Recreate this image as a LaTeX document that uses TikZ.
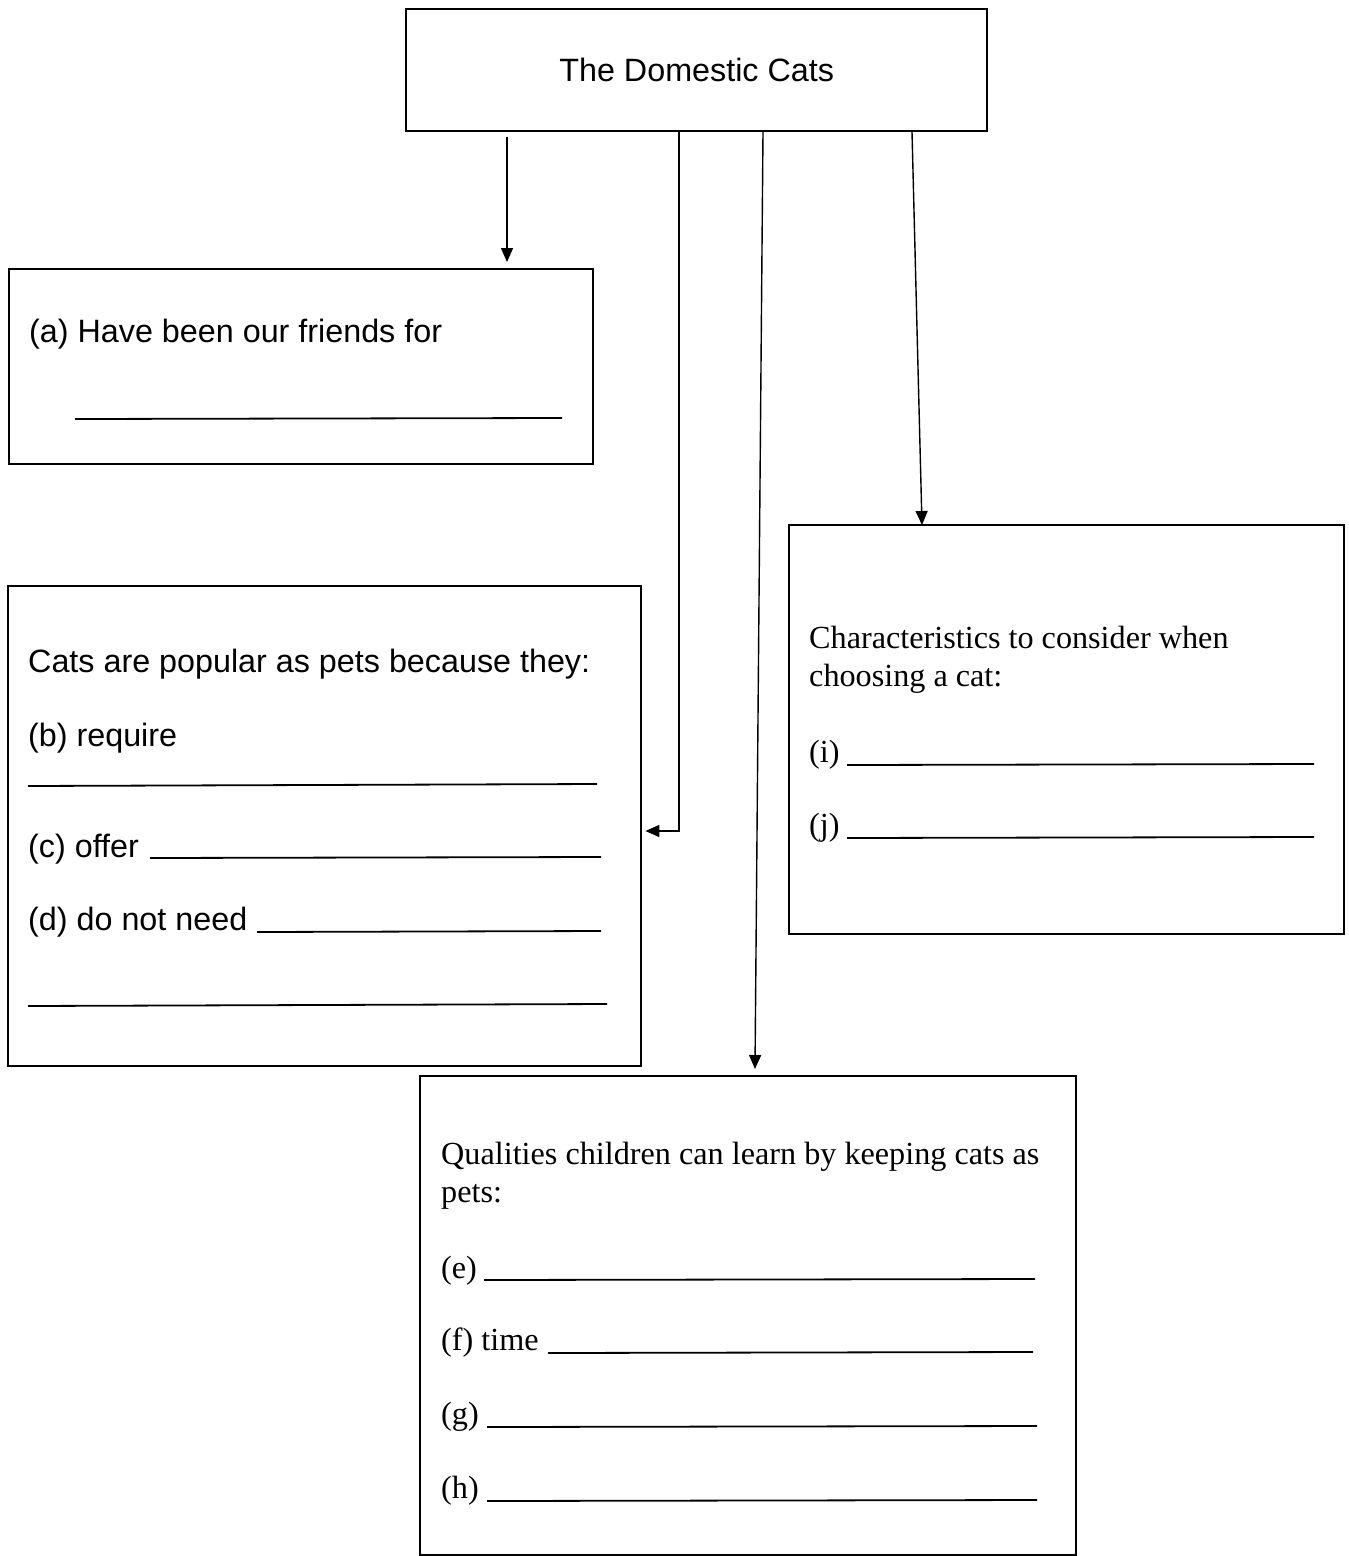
\documentclass[tikz,border=0pt]{standalone}
\usepackage{fontspec}
\newfontfamily\sansf{Liberation Sans}
\newfontfamily\seriff{Liberation Serif}
\usetikzlibrary{arrows.meta}
\tikzset{
  box/.style={draw, line width=2.4pt, anchor=north west, inner sep=0pt},
  arr/.style={line width=1.4pt, -{Triangle[length=14pt,width=12pt]}},
  uline/.style={line width=1.8pt},
  stxt/.style={anchor=base west, inner sep=0pt, font=\sansf\fontsize{32.3}{38}\selectfont},
  rtxt/.style={anchor=base west, inner sep=0pt, font=\seriff\fontsize{32.2}{38.5}\selectfont},
}
\begin{document}
\begin{tikzpicture}[x=1pt,y=-1pt]
\useasboundingbox (0,0) rectangle (1349,1556);
% boxes
\node[box, minimum width=581pt, minimum height=122pt, font=\sansf\fontsize{32.3}{38}\selectfont] (top) at (405,8) {The Domestic Cats};
\node[box, minimum width=584pt, minimum height=195pt] (boxa) at (8,268) {};
\node[box, minimum width=633pt, minimum height=480pt] (boxb) at (7,585) {};
\node[box, minimum width=555pt, minimum height=409pt] (boxc) at (788,524) {};
\node[box, minimum width=656pt, minimum height=479pt] (boxd) at (419,1075) {};

% connectors
\coordinate (s1) at (507,137);
\coordinate (s2) at (679,130);
\coordinate (s3) at (763,132);
\coordinate (e3) at (755,1069);
\coordinate (s4) at (912,132);
\coordinate (e4) at (922,525);
\draw[arr] (s1) -- ([yshift=6pt]s1 |- boxa.north);
\draw[arr] (s2) |- ([xshift=3pt]boxb.east |- 0,831);
\draw[arr] (s3) -- (e3);
\draw[arr] (s4) -- (e4);

% box a
\node[stxt] (ta) at (29,342) {(a) Have been our friends for};
\draw[uline] (75,419) -- (562,418);

% box b
\node[stxt] (tb0) at (28,672) {Cats are popular as pets because they:};
\node[stxt] (tb) at (28,746) {(b) require};
\draw[uline] (28,786) -- (597,784);
\node[stxt] (tc) at (28,857) {(c) offer};
\draw[uline] (150,858) -- (601,857);
\node[stxt] (td) at (28,930) {(d) do not need};
\draw[uline] (257,932) -- (601,931);
\draw[uline] (28,1006) -- (607,1004);

% box c
\node[rtxt] (tc0) at (809,648) {Characteristics to consider when};
\node[rtxt] (tc1) at (809,686) {choosing a cat:};
\node[rtxt] (ti) at (809,762) {(i)};
\draw[uline] (847,765) -- (1314,764);
\node[rtxt] (tj) at (809,835) {(j)};
\draw[uline] (847,838) -- (1314,837);

% box d
\node[rtxt] (td0) at (441,1164) {Qualities children can learn by keeping cats as};
\node[rtxt] (td1) at (441,1202) {pets:};
\node[rtxt] (te) at (441,1278) {(e)};
\draw[uline] (484,1280) -- (1035,1279);
\node[rtxt] (tf) at (441,1350) {(f) time};
\draw[uline] (548,1353) -- (1033,1352);
\node[rtxt] (tg) at (441,1424) {(g)};
\draw[uline] (487,1427) -- (1037,1426);
\node[rtxt] (th) at (441,1498) {(h)};
\draw[uline] (487,1501) -- (1037,1500);
\end{tikzpicture}
\end{document}
